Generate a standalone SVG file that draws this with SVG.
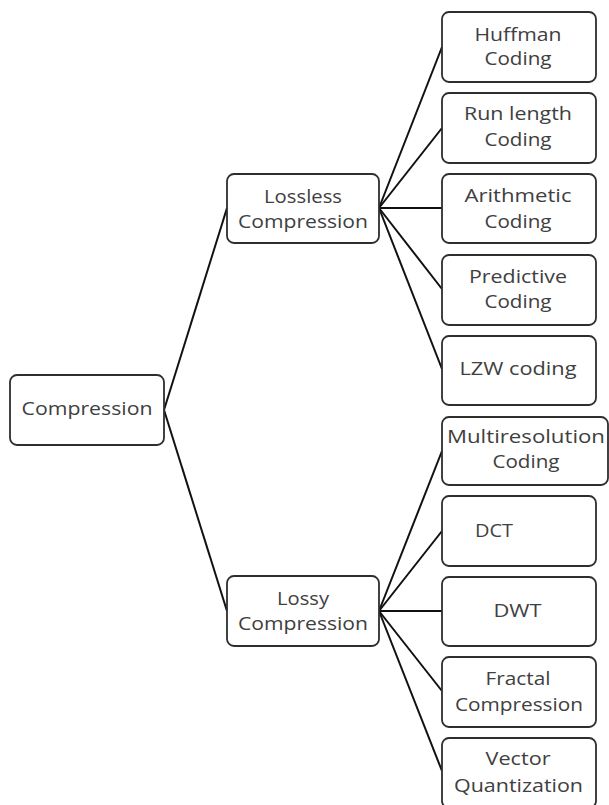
<svg xmlns="http://www.w3.org/2000/svg" width="609" height="805" viewBox="0 0 609 805">
  <style>
    .box { fill: #ffffff; stroke: #2e2e2e; stroke-width: 1.8; }
    .lbl { font-family: "Open Sans", "Noto Sans", "DejaVu Sans", sans-serif; font-size: 18px; fill: #404040; text-anchor: middle; }
    .edge { stroke: #111111; stroke-width: 2; fill: none; }
  </style>
  <rect width="609" height="805" fill="#ffffff"/>

  <g id="connectors">
    <line class="edge" x1="164" y1="410" x2="227" y2="208"/>
    <line class="edge" x1="164" y1="410" x2="227" y2="611"/>
    <line class="edge" x1="379" y1="208" x2="442" y2="47"/>
    <line class="edge" x1="379" y1="208" x2="442" y2="128"/>
    <line class="edge" x1="379" y1="208" x2="442" y2="208"/>
    <line class="edge" x1="379" y1="208" x2="442" y2="289"/>
    <line class="edge" x1="379" y1="208" x2="442" y2="369"/>
    <line class="edge" x1="379" y1="611" x2="442" y2="451"/>
    <line class="edge" x1="379" y1="611" x2="442" y2="531"/>
    <line class="edge" x1="379" y1="611" x2="442" y2="611"/>
    <line class="edge" x1="379" y1="611" x2="442" y2="691"/>
    <line class="edge" x1="379" y1="611" x2="442" y2="771"/>
  </g>

  <g id="compression">
    <rect class="box" x="10" y="375" width="154" height="70" rx="7"/>
    <text class="lbl" x="87" y="415" textLength="131" lengthAdjust="spacingAndGlyphs">Compression</text>
  </g>

  <g id="lossless">
    <rect class="box" x="227" y="174" width="152" height="69" rx="7"/>
    <text class="lbl" x="303" y="203" textLength="78" lengthAdjust="spacingAndGlyphs">Lossless</text>
    <text class="lbl" x="303" y="228" textLength="130" lengthAdjust="spacingAndGlyphs">Compression</text>
  </g>

  <g id="lossy">
    <rect class="box" x="227" y="576" width="152" height="70" rx="7"/>
    <text class="lbl" x="303" y="605" textLength="52" lengthAdjust="spacingAndGlyphs">Lossy</text>
    <text class="lbl" x="303" y="630" textLength="130" lengthAdjust="spacingAndGlyphs">Compression</text>
  </g>

  <g id="huffman">
    <rect class="box" x="442" y="12" width="154" height="70" rx="7"/>
    <text class="lbl" x="518" y="41" textLength="87" lengthAdjust="spacingAndGlyphs">Huffman</text>
    <text class="lbl" x="518" y="65" textLength="67" lengthAdjust="spacingAndGlyphs">Coding</text>
  </g>

  <g id="run-length">
    <rect class="box" x="442" y="93" width="154" height="70" rx="7"/>
    <text class="lbl" x="518" y="120" textLength="108" lengthAdjust="spacingAndGlyphs">Run length</text>
    <text class="lbl" x="518" y="146" textLength="67" lengthAdjust="spacingAndGlyphs">Coding</text>
  </g>

  <g id="arithmetic">
    <rect class="box" x="442" y="174" width="154" height="69" rx="7"/>
    <text class="lbl" x="518" y="202" textLength="107" lengthAdjust="spacingAndGlyphs">Arithmetic</text>
    <text class="lbl" x="518" y="228" textLength="67" lengthAdjust="spacingAndGlyphs">Coding</text>
  </g>

  <g id="predictive">
    <rect class="box" x="442" y="255" width="154" height="70" rx="7"/>
    <text class="lbl" x="518" y="283" textLength="98" lengthAdjust="spacingAndGlyphs">Predictive</text>
    <text class="lbl" x="518" y="308" textLength="67" lengthAdjust="spacingAndGlyphs">Coding</text>
  </g>

  <g id="lzw">
    <rect class="box" x="442" y="336" width="154" height="69" rx="7"/>
    <text class="lbl" x="518" y="375" textLength="117" lengthAdjust="spacingAndGlyphs">LZW coding</text>
  </g>

  <g id="multiresolution">
    <rect class="box" x="442" y="417" width="166" height="68" rx="7"/>
    <text class="lbl" x="526" y="443" textLength="158" lengthAdjust="spacingAndGlyphs">Multiresolution</text>
    <text class="lbl" x="526" y="468" textLength="67" lengthAdjust="spacingAndGlyphs">Coding</text>
  </g>

  <g id="dct">
    <rect class="box" x="442" y="496" width="154" height="70" rx="7"/>
    <text class="lbl" x="494" y="537" textLength="38" lengthAdjust="spacingAndGlyphs">DCT</text>
  </g>

  <g id="dwt">
    <rect class="box" x="442" y="577" width="154" height="69" rx="7"/>
    <text class="lbl" x="517.5" y="617" textLength="48" lengthAdjust="spacingAndGlyphs">DWT</text>
  </g>

  <g id="fractal">
    <rect class="box" x="442" y="657" width="154" height="70" rx="7"/>
    <text class="lbl" x="518" y="685" textLength="65" lengthAdjust="spacingAndGlyphs">Fractal</text>
    <text class="lbl" x="519" y="711" textLength="128" lengthAdjust="spacingAndGlyphs">Compression</text>
  </g>

  <g id="vector">
    <rect class="box" x="442" y="738" width="154" height="70" rx="7"/>
    <text class="lbl" x="518" y="765" textLength="65" lengthAdjust="spacingAndGlyphs">Vector</text>
    <text class="lbl" x="518.5" y="792" textLength="129" lengthAdjust="spacingAndGlyphs">Quantization</text>
  </g>
</svg>
